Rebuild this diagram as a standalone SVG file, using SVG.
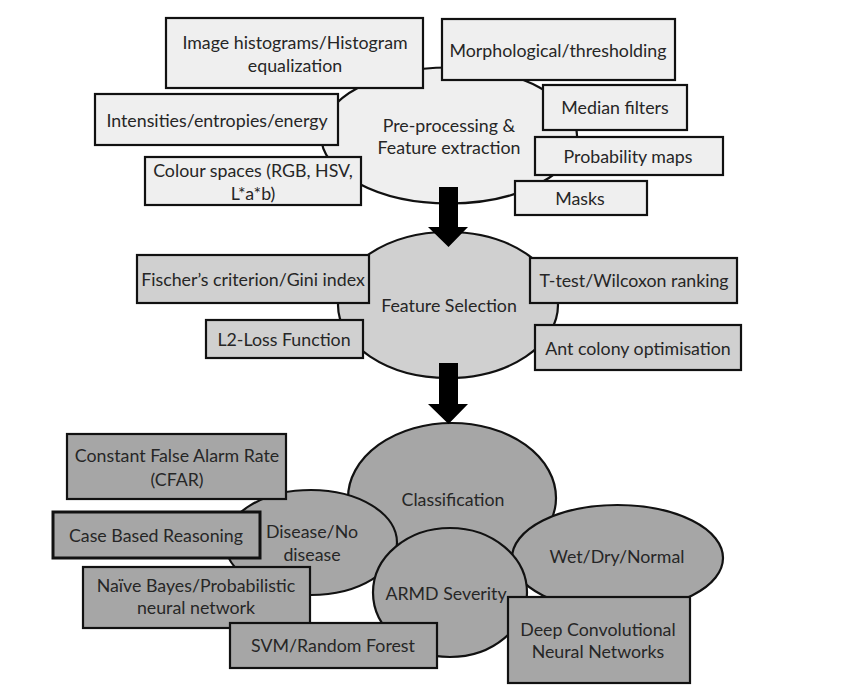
<svg xmlns="http://www.w3.org/2000/svg" width="841" height="692" viewBox="0 0 841 692">
<style>
.t1{fill:#efefef;stroke:#111;stroke-width:2.2}
.t2{fill:#d0d0d0;stroke:#111;stroke-width:2.2}
.t3{fill:#a6a6a6;stroke:#111;stroke-width:2.2}
.thick{stroke-width:3}
text{font-family:Lato,"Open Sans",sans-serif;font-size:17.8px;fill:#262626;text-anchor:middle}
.arrow{fill:#000}
</style>
<rect width="841" height="692" fill="#fff"/>
<g id="preprocessing">
<ellipse class="t1" cx="449" cy="135.5" rx="128" ry="68"/>
<text x="449" y="132">Pre-processing &amp;</text>
<text x="449" y="154">Feature extraction</text>
</g>
<g id="n-histograms"><rect class="t1" x="166" y="18" width="257" height="70"/><text x="295" y="49">Image histograms/Histogram</text><text x="295" y="72">equalization</text></g>
<g id="n-morph"><rect class="t1" x="442" y="19" width="233" height="61"/><text x="558" y="57">Morphological/thresholding</text></g>
<g id="n-intensities"><rect class="t1" x="95" y="94" width="243" height="51"/><text x="217" y="127">Intensities/entropies/energy</text></g>
<g id="n-median"><rect class="t1" x="543" y="85" width="144" height="45"/><text x="615" y="114">Median filters</text></g>
<g id="n-prob"><rect class="t1" x="535" y="137" width="188" height="38"/><text x="628" y="163">Probability maps</text></g>
<g id="n-colour"><rect class="t1" x="145" y="157" width="216" height="48"/><text x="253" y="177">Colour spaces (RGB, HSV,</text><text x="253" y="200">L*a*b)</text></g>
<g id="n-masks"><rect class="t1" x="515" y="181" width="132" height="34"/><text x="580" y="205">Masks</text></g>

<g id="featureselection">
<ellipse class="t2" cx="448" cy="305" rx="110" ry="73"/>
<text x="449" y="312">Feature Selection</text>
</g>
<g id="n-fischer"><rect class="t2" x="137" y="255" width="232" height="48"/><text x="253" y="286">Fischer’s criterion/Gini index</text></g>
<g id="n-ttest"><rect class="t2" x="530" y="258" width="207" height="45"/><text x="634" y="287">T-test/Wilcoxon ranking</text></g>
<g id="n-l2"><rect class="t2" x="206" y="320" width="157" height="38"/><text x="284" y="346">L2-Loss Function</text></g>
<g id="n-ant"><rect class="t2" x="535" y="325" width="206" height="45"/><text x="638" y="355">Ant colony optimisation</text></g>

<g id="classification">
<ellipse class="t3" cx="452" cy="498" rx="104" ry="75"/>
<text x="453" y="506">Classification</text>
</g>
<g id="disease">
<ellipse class="t3" cx="311" cy="542.5" rx="86" ry="52.5"/>
<text x="312" y="538">Disease/No</text>
<text x="312" y="561">disease</text>
</g>
<g id="wetdry">
<ellipse class="t3" cx="617.5" cy="558" rx="105.5" ry="53"/>
<text x="617" y="563">Wet/Dry/Normal</text>
</g>
<g id="armd">
<ellipse class="t3" cx="450" cy="592.5" rx="77" ry="64.5"/>
<text x="446" y="600">ARMD Severity</text>
</g>
<g id="n-cfar"><rect class="t3" x="67" y="434" width="219" height="65"/><text x="177" y="462">Constant False Alarm Rate</text><text x="177" y="486">(CFAR)</text></g>
<g id="n-cbr"><rect class="t3 thick" x="53" y="512" width="207" height="46"/><text x="156" y="542">Case Based Reasoning</text></g>
<g id="n-naive"><rect class="t3" x="83" y="567" width="227" height="61"/><text x="196" y="592">Naïve Bayes/Probabilistic</text><text x="196" y="614">neural network</text></g>
<g id="n-svm"><rect class="t3" x="230" y="623" width="207" height="45"/><text x="333" y="652">SVM/Random Forest</text></g>
<g id="n-dcnn"><rect class="t3" x="508" y="597" width="182" height="86"/><text x="598" y="636">Deep Convolutional</text><text x="598" y="658">Neural Networks</text></g>

<g id="connectors">
<polygon class="arrow" points="439,187 458,187 458,227 468,227 448.5,247 428,227 439,227"/>
<polygon class="arrow" points="439,363 458,363 458,404 468,404 448.5,424 428,404 439,404"/>
</g>
</svg>
